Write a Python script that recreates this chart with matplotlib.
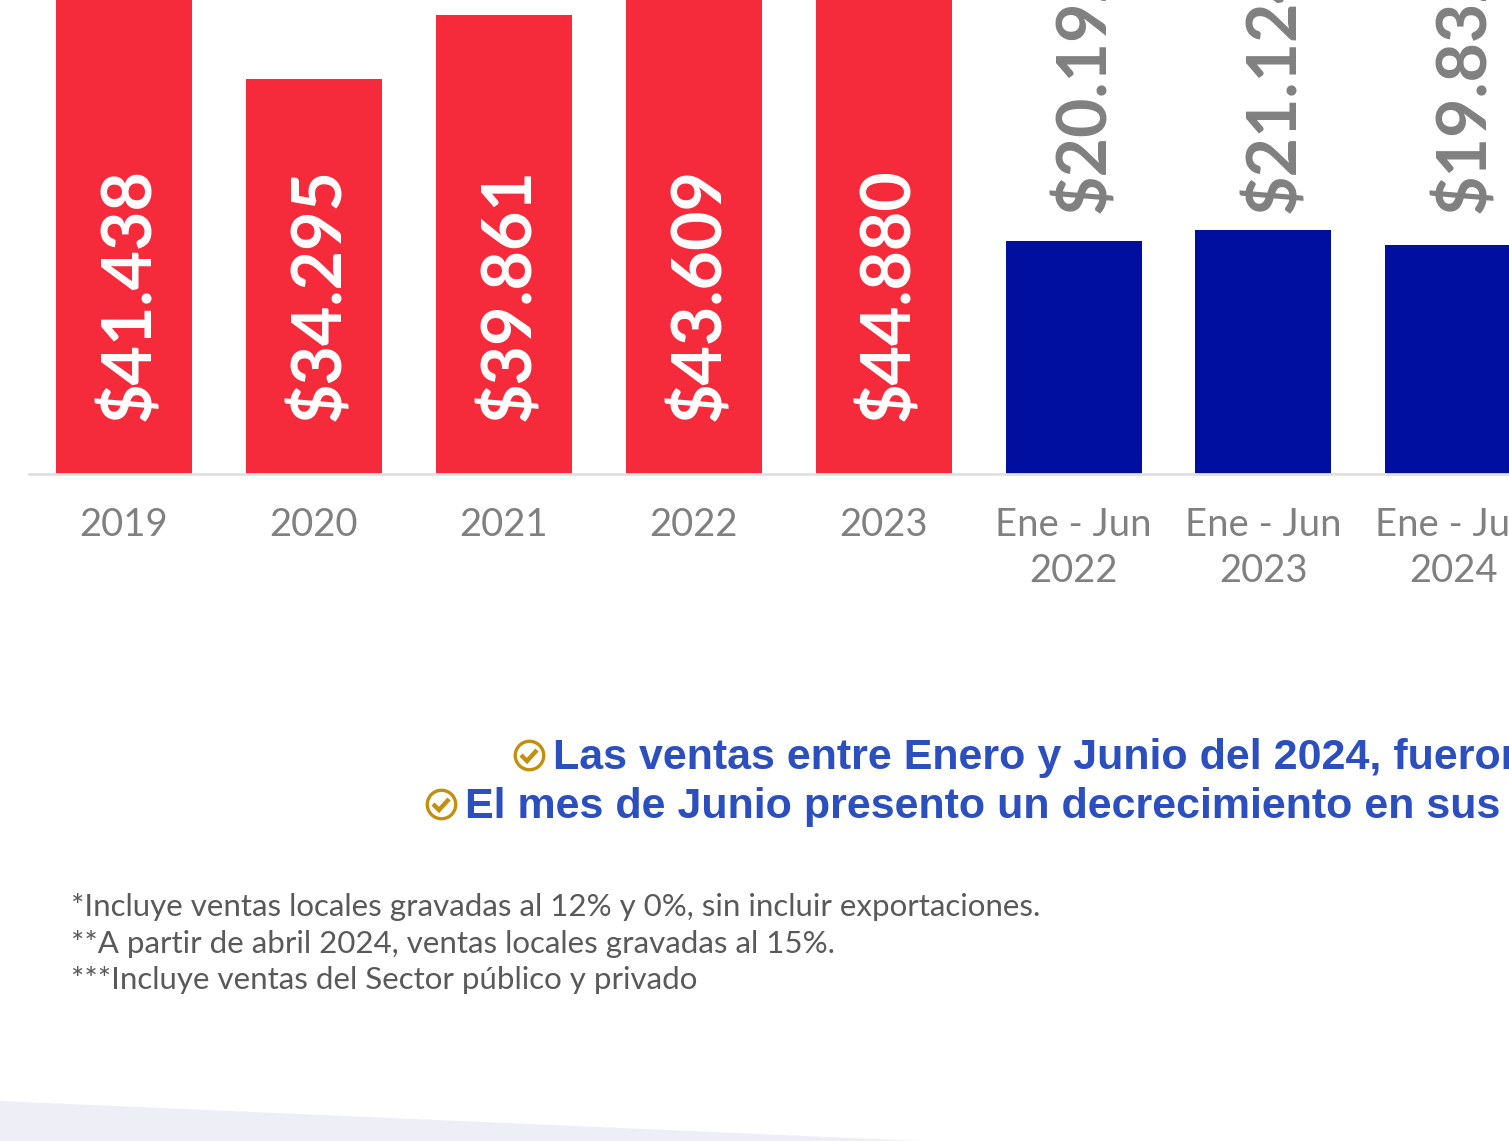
import matplotlib
matplotlib.use('Agg')
import matplotlib.pyplot as plt
from matplotlib.patches import Polygon

W, H = 1509, 1141

# Data (sales, in thousands)
categories = ['2019', '2020', '2021', '2022', '2023',
              'Ene - Jun\n2022', 'Ene - Jun\n2023', 'Ene - Jun\n2024']
values = [41438, 34295, 39861, 43609, 44880, 20190, 21120, 19830]
labels = ['$41.438', '$34.295', '$39.861', '$43.609', '$44.880',
          '$20.192', '$21.124', '$19.832']
colors = ['#F52A3A'] * 5 + ['#000F9F'] * 3

notes = ['Las ventas entre Enero y Junio del 2024, fueron',
         'El mes de Junio presento un decrecimiento en sus ventas']
footnotes = ['*Incluye ventas locales gravadas al 12% y 0%, sin incluir exportaciones.',
             '**A partir de abril 2024, ventas locales gravadas al 15%.',
             '***Incluye ventas del Sector público y privado']


def px(x, y):
    return x / W, 1 - y / H


fig = plt.figure(figsize=(W / 100, H / 100), dpi=100, facecolor='white')

# background wedge at the bottom
fig.add_artist(Polygon([px(0, 1101), px(920, 1141), px(0, 1141)], closed=True,
                       transform=fig.transFigure, facecolor='#EEEEF7', edgecolor='none'))

# axes run from the baseline to the top edge of the picture
ax = fig.add_axes([0, 1 - 473.5 / H, 1, 473.5 / H])
ax.patch.set_alpha(0)
ax.set_xlim(-124 / 189.9, (W - 124) / 189.9)
ax.set_ylim(0, 473.5 / 0.01151)

x = list(range(len(values)))
ax.bar(x, values, width=136 / 189.9, color=colors)

trans = ax.get_xaxis_transform()
for i in x:
    if i < 5:
        ax.text(i + 6 / 189.9, 0.11, labels[i], transform=trans, rotation=90, ha='center', va='bottom',
                color='white', fontsize=49, fontweight='bold', family='Lato', clip_on=False)
    else:
        ax.text(i + 12 / 189.9, 0.55, labels[i], transform=trans, rotation=90, ha='center', va='bottom',
                color='#808080', fontsize=49, fontweight='bold', family='Lato', clip_on=False)

for s in ['top', 'left', 'right']:
    ax.spines[s].set_visible(False)
ax.spines['bottom'].set_color('#E0E0E0')
ax.spines['bottom'].set_linewidth(2)
ax.spines['bottom'].set_bounds(-95 / 189.9, (W - 124) / 189.9)
ax.set_yticks([])
ax.set_xticks(x)
ax.set_xticklabels(categories, fontsize=27.5, color='#808080', family='Lato',
                   fontweight='normal', linespacing=1.34)
ax.tick_params(axis='x', length=0, pad=24)

# notes with check icons
for txt, tx, ty in zip(notes, [553, 465], [756, 805]):
    fig.text(*px(tx, ty + 2), txt, fontsize=31, color='#2B4FBF', family='Liberation Sans',
             fontweight='bold', ha='left', va='center')
    cx, cy = tx - 24, ty - 1
    fig.add_artist(Polygon([px(cx - 8, cy), px(cx - 2, cy + 6), px(cx + 8, cy - 5)], closed=False,
                           transform=fig.transFigure, facecolor='none', edgecolor='#C48F0E', linewidth=3.2))
    fig.add_artist(plt.Line2D([cx / W], [1 - cy / H],
                              transform=fig.transFigure, marker='o', markersize=20.5,
                              markerfacecolor='none', markeredgecolor='#C48F0E', markeredgewidth=2.4))

for txt, ty in zip(footnotes, [907, 944, 980]):
    fig.text(*px(71, ty), txt, fontsize=22.5, color='#595959', family='Lato',
             fontweight='normal', ha='left', va='center')

fig.savefig('out.png', dpi=100)
